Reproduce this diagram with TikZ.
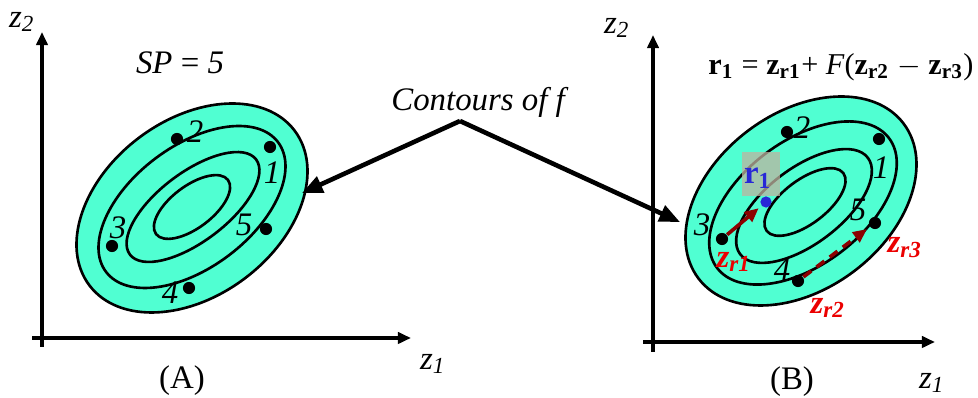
\documentclass[tikz,border=0pt]{standalone}
\usepackage{fontspec}
\setmainfont{Liberation Serif}
\usetikzlibrary{arrows.meta}
\definecolor{contourfill}{RGB}{80,255,210}
\definecolor{darkarrow}{RGB}{140,0,0}
\definecolor{zlabel}{RGB}{235,0,0}
\definecolor{rblue}{RGB}{40,40,215}
\definecolor{boxgray}{RGB}{190,180,160}
\def\zz#1{\textit{z}\textsubscript{\textit{#1}}}
\def\bz#1{\textbf{z}\textsubscript{\textbf{#1}}}
\tikzset{
  axis/.style={line width=1.3pt,-{Triangle[length=1.4mm,width=1.2mm]}},
  contour/.style={line width=0.8pt},
  pt/.style={circle,fill=black,inner sep=0pt,minimum size=1.3mm},
  num/.style={font=\itshape},
  zr/.style={text=zlabel,font=\bfseries\itshape},
  pointer/.style={line width=1.4pt,-{Triangle[length=2.2mm,width=1.8mm]}},
  move/.style={darkarrow,line width=1.1pt,-{Triangle[length=1.5mm,width=1.3mm]},shorten >=1pt}
}

\begin{document}
\begin{tikzpicture}[x=0.0107cm,y=-0.0107cm]
\useasboundingbox (0,0) rectangle (978,398);
%\draw[help lines,step=50] (0,0) grid (978,398);

% (A)
\coordinate (a0) at (42,347);
\coordinate (a1) at (42,32);
\coordinate (a2) at (32,338);
\coordinate (a3) at (411,338);
\draw[axis] (a0) -- (a1);
\draw[axis] (a2) -- (a3);
\node (za2) at (22,22) {\zz{2}};
\node (za1) at (433,364) {\zz{1}};
\node (capA) at (182,381) {(A)};
\node (spA) at (180,63) {\textit{SP} = \textit{5}};

\draw[contour,fill=contourfill,rotate around={37:(192,208)}] (192,208) ellipse [x radius=128.5,y radius=88];
\draw[contour,rotate around={37:(192,207)}] (192,207) ellipse [x radius=107.7,y radius=60.8];
\draw[contour,rotate around={37:(193,207)}] (193,207) ellipse [x radius=79,y radius=34.5];
\draw[contour,rotate around={37:(192,207)}] (192,207) ellipse [x radius=45,y radius=21];

\node[pt] (pa1) at (270,147) {};
\node[pt] (pa2) at (177,139) {};
\node[pt] (pa3) at (112,246) {};
\node[pt] (pa4) at (189,288) {};
\node[pt] (pa5) at (266,229) {};
\node[num] (na1) at (272,173) {1};
\node[num] (na2) at (195,132) {2};
\node[num] (na3) at (118,228) {3};
\node[num] (na4) at (170,293) {4};
\node[num] (na5) at (244,225) {5};

% (B)
\coordinate (b0) at (653,352);
\coordinate (b1) at (653,35);
\coordinate (b2) at (643,342);
\coordinate (b3) at (935,342);
\draw[axis] (b0) -- (b1);
\draw[axis] (b2) -- (b3);
\node (zb2) at (617,28) {\zz{2}};
\node (zb1) at (932,383) {\zz{1}};
\node (capB) at (792,382) {(B)};
\node[font=\fontsize{9.2}{11}\selectfont] (eqB) at (841,67) {\textbf{r}\textsubscript{\textbf{1}} = \bz{r1}+ \textit{F}(\bz{r2} $-$ \bz{r3})};

\draw[contour,fill=contourfill,rotate around={37:(801,201)}] (801,201) ellipse [x radius=128.5,y radius=88];
\draw[contour,rotate around={37:(803,203)}] (803,203) ellipse [x radius=107.7,y radius=62];
\draw[contour,rotate around={37:(804,206)}] (804,206) ellipse [x radius=80,y radius=38];
\draw[contour,rotate around={37:(805,202)}] (805,202) ellipse [x radius=48,y radius=22];

\fill[boxgray,fill opacity=0.75] (742,152) rectangle (780,196);
\node[text=rblue,font=\bfseries] (r1) at (758,178) {r\textsubscript{1}};
\node[circle,fill=rblue,inner sep=0pt,minimum size=1.2mm] (pr) at (766,202) {};

\node[pt] (pb1) at (879,139) {};
\node[pt] (pb2) at (787,132) {};
\node[pt] (pb3) at (722,239) {};
\node[pt] (pb4) at (798,281) {};
\node[pt] (pb5) at (875,223) {};
\node[num] (nb1) at (881,168) {1};
\node[num] (nb2) at (802,128) {2};
\node[num] (nb3) at (702,225) {3};
\node[num] (nb4) at (782,270) {4};
\node[num] (nb5) at (858,210) {5};

\draw[move] (pb3) -- (pr);
\draw[move,dash pattern=on 3pt off 2pt] (pb4) -- (pb5);
\node[zr] (zr1) at (734,262) {z\textsubscript{r1}};
\node[zr] (zr3) at (905,248) {z\textsubscript{r3}};
\node[zr] (zr2) at (828,308) {z\textsubscript{r2}};

% contours of f
\node (cf) at (480,102) {\textit{Contours of f}};
\coordinate (apex) at (460,121);
\coordinate (tipA) at (302,193);
\coordinate (tipB) at (680,222);
\draw[pointer] (apex) -- (tipA);
\draw[pointer] (apex) -- (tipB);
\end{tikzpicture}
\end{document}
